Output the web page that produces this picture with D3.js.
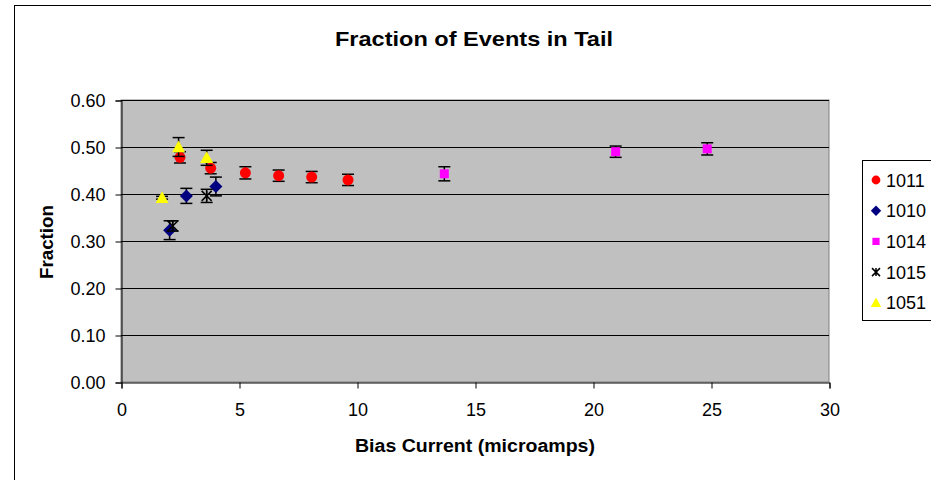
<!DOCTYPE html>
<html><head><meta charset="utf-8">
<script src="https://cdn.jsdelivr.net/npm/d3@7"></script>
<style>body{margin:0;background:#fff;}svg{display:block;font-family:"Liberation Sans",Arial,sans-serif;}</style>
</head><body><svg id="c" width="931" height="480"></svg>
<script>
const seriesNames = ["1011","1010","1014","1015","1051"];
const s1011_x = [2.5, 3.8, 5.27, 6.68, 8.08, 9.62];
const s1011_y = [0.478, 0.455, 0.445, 0.439, 0.436, 0.430];
const s1011_e = [0.012, 0.012, 0.013, 0.012, 0.012, 0.012];
const s1010_x = [2.06, 2.77, 4.02];
const s1010_y = [0.323, 0.396, 0.416];
const s1010_e = [0.020, 0.016, 0.020];
const s1014_x = [13.7, 20.96, 24.84];
const s1014_y = [0.443, 0.490, 0.496];
const s1014_e = [0.015, 0.012, 0.013];
const s1015_x = [2.19, 3.63];
const s1015_y = [0.332, 0.396];
const s1015_e = [0.011, 0.014];
const s1051_x = [1.74, 2.44, 3.63];
const s1051_y = [0.392, 0.500, 0.477];
const s1051_e = [0.003, 0.020, 0.016];
const xTicks = [0,5,10,15,20,25,30];
const yTicks = [0,0.1,0.2,0.3,0.4,0.5,0.6];

const series = [
  {name:seriesNames[0], x:s1011_x, y:s1011_y, e:s1011_e, shape:"circle", color:"#FF0000"},
  {name:seriesNames[1], x:s1010_x, y:s1010_y, e:s1010_e, shape:"diamond", color:"#000080"},
  {name:seriesNames[2], x:s1014_x, y:s1014_y, e:s1014_e, shape:"square", color:"#FF00FF"},
  {name:seriesNames[3], x:s1015_x, y:s1015_y, e:s1015_e, shape:"star", color:"#000000"},
  {name:seriesNames[4], x:s1051_x, y:s1051_y, e:s1051_e, shape:"triangle", color:"#FFFF00"}
];
const svg = d3.select("#c");
const L=121,R=829,T=100,B=382;
const x = d3.scaleLinear().domain([0,30]).range([L,R]);
const y = d3.scaleLinear().domain([0,0.6]).range([B,T]);

svg.append("rect").attr("x",14.5).attr("y",5.5).attr("width",930).attr("height",480).attr("fill","#fff").attr("stroke","#000").attr("stroke-width",1);

svg.append("text").attr("x",474).attr("y",46).attr("text-anchor","middle").attr("font-size",21).attr("font-weight","bold")
  .attr("textLength",278).attr("lengthAdjust","spacingAndGlyphs").text("Fraction of Events in Tail");

svg.append("rect").attr("x",L).attr("y",T).attr("width",R-L).attr("height",B-T).attr("fill","#C0C0C0").attr("stroke","#808080").attr("stroke-width",1);

svg.append("g").selectAll("line").data(yTicks.filter(d=>d>0)).join("line")
  .attr("x1",L).attr("x2",R).attr("y1",d=>Math.round(y(d))+0.5).attr("y2",d=>Math.round(y(d))+0.5)
  .attr("stroke","#000").attr("stroke-width",1);

const yAxis = d3.axisLeft(y).tickValues(yTicks).tickFormat(d3.format(".2f")).tickSize(6).tickPadding(10);
const gy = svg.append("g").attr("transform",`translate(${L+0.5},0.5)`).call(yAxis);
const xAxis = d3.axisBottom(x).tickValues(xTicks).tickFormat(d3.format("d")).tickSize(6).tickPadding(15);
const gx = svg.append("g").attr("transform",`translate(0.5,${B+0.5})`).call(xAxis);
[gx,gy].forEach(g=>{
  g.select(".domain").attr("stroke","#000");
  g.selectAll(".tick line").attr("stroke","#000");
  g.selectAll("text").attr("font-size",18).attr("fill","#000").attr("font-family","'Liberation Sans',Arial,sans-serif");
});

svg.append("text").attr("x",475).attr("y",452).attr("text-anchor","middle").attr("font-size",18).attr("font-weight","bold")
  .attr("textLength",240).attr("lengthAdjust","spacingAndGlyphs").text("Bias Current (microamps)");
svg.append("text").attr("transform","translate(53,242) rotate(-90)").attr("text-anchor","middle").attr("font-size",18).attr("font-weight","bold")
  .attr("textLength",74).attr("lengthAdjust","spacingAndGlyphs").text("Fraction");

function marker(g, shape, color, cx, cy, scale){
  scale = scale||1;
  if(shape==="circle") g.append("circle").attr("cx",cx).attr("cy",cy).attr("r",5.5*scale).attr("fill",color);
  else if(shape==="diamond"){const s=6.5*scale; g.append("path").attr("d",`M${cx},${cy-s}L${cx+s},${cy}L${cx},${cy+s}L${cx-s},${cy}Z`).attr("fill",color);}
  else if(shape==="square"){const s=4.5*scale; g.append("rect").attr("x",cx-s).attr("y",cy-s).attr("width",2*s).attr("height",2*s).attr("fill",color);}
  else if(shape==="triangle"){const s=6.5*scale; g.append("path").attr("d",`M${cx},${cy-s}L${cx+s},${cy+s*0.8}L${cx-s},${cy+s*0.8}Z`).attr("fill",color);}
  else if(shape==="star"){const s=5*scale; g.append("path").attr("d",`M${cx-s},${cy-s}L${cx+s},${cy+s}M${cx+s},${cy-s}L${cx-s},${cy+s}M${cx},${cy-s}L${cx},${cy+s}`).attr("stroke",color).attr("stroke-width",1.5).attr("fill","none");}
}

const plot = svg.append("g");
series.forEach(s=>{
  const g = plot.append("g");
  s.x.forEach((xv,i)=>{
    const cx=x(xv), cy=y(s.y[i]), t=y(s.y[i]+s.e[i]), b=y(s.y[i]-s.e[i]);
    g.append("line").attr("x1",cx).attr("x2",cx).attr("y1",t).attr("y2",b).attr("stroke","#000").attr("stroke-width",1.5);
    g.append("line").attr("x1",cx-6).attr("x2",cx+6).attr("y1",t).attr("y2",t).attr("stroke","#000").attr("stroke-width",1.5);
    g.append("line").attr("x1",cx-6).attr("x2",cx+6).attr("y1",b).attr("y2",b).attr("stroke","#000").attr("stroke-width",1.5);
    marker(g, s.shape, s.color, cx, cy, 1);
  });
});

const lg = svg.append("g");
lg.append("rect").attr("x",862.5).attr("y",160.5).attr("width",80).attr("height",160).attr("fill","#fff").attr("stroke","#000");
series.forEach((s,i)=>{
  const ly = 180 + i*30.7;
  marker(lg, s.shape, s.color, 876, ly, 0.8);
  lg.append("text").attr("x",886).attr("y",ly+6.5).attr("font-size",18).text(s.name);
});
</script></body></html>
